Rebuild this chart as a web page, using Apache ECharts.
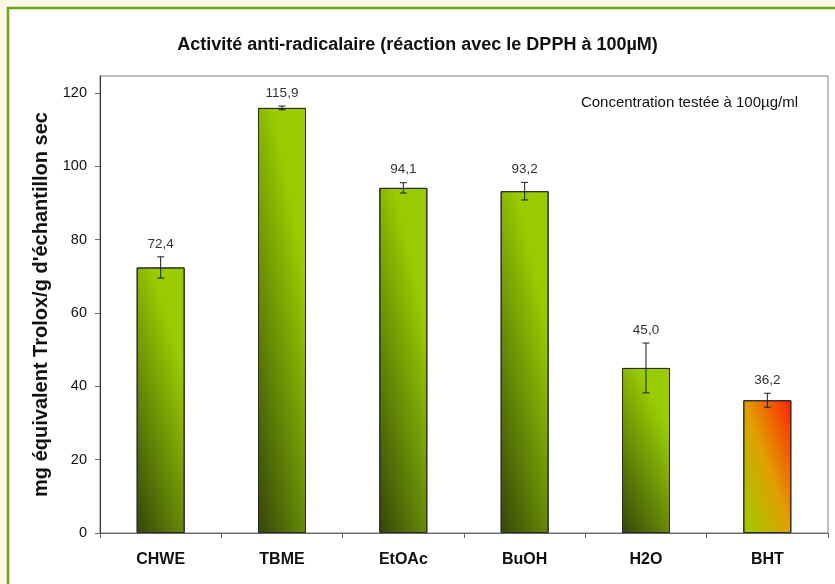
<!DOCTYPE html>
<html>
<head>
<meta charset="utf-8">
<script src="https://cdn.jsdelivr.net/npm/echarts@6/dist/echarts.min.js"></script>
<style>
  html, body { margin: 0; padding: 0; background: #fdf8e6; }
  #chart { width: 835px; height: 584px; }
</style>
</head>
<body>
<div id="chart"></div>
<script>
var categories = ['CHWE', 'TBME', 'EtOAc', 'BuOH', 'H2O', 'BHT'];
var values = [72.4, 115.9, 94.1, 93.2, 45.0, 36.2];
var errors = [2.9, 0.5, 1.4, 2.4, 6.8, 1.9];
var yTicks = [0, 20, 40, 60, 80, 100, 120];

var yMax = 124.6;
var plotH = 584 - 76 - 51;
var barW = 48;

var chartDom = document.getElementById('chart');
var myChart = echarts.init(chartDom);

// diagonal gradient from the bottom-left corner; c = how far up the left edge the mid colour sits
function diagFill(v, c, stops) {
    var h = v / yMax * plotH;
    var ch = c * h;
    var s = barW * barW + ch * ch;
    var x2 = 2 * ch * ch / s;
    var y2 = 1 - 2 * c * barW * barW / s;
    return new echarts.graphic.LinearGradient(0, 1, x2, y2, stops);
}

var greenStops = [
    {offset: 0, color: '#34450a'},
    {offset: 0.5, color: '#668a06'},
    {offset: 1, color: '#99cc00'}
];
var redStops = [
    {offset: 0, color: '#99cc00'},
    {offset: 0.5, color: '#e0a000'},
    {offset: 1, color: '#ff2200'}
];

var barData = [];
for (let i = 0; i < values.length; i++) {
    var isRef = categories[i] === 'BHT';
    barData.push({
        value: values[i],
        itemStyle: {color: isRef ? diagFill(values[i], 1, redStops) : diagFill(values[i], 0.6, greenStops)}
    });
}
var errData = [];
for (let i = 0; i < values.length; i++) {
    errData.push([i, values[i], errors[i]]);
}

function fmt(v) {
    return v.toFixed(1).replace('.', ',');
}

var option = {
    backgroundColor: '#fdf8e6',
    textStyle: {fontFamily: 'Liberation Sans, Arial, sans-serif'},
    graphic: [
        {
            type: 'rect',
            z: -10,
            shape: {x: 8, y: 8, width: 840, height: 590},
            style: {fill: '#ffffff', stroke: '#6aa812', lineWidth: 2.5}
        },
        {
            type: 'text',
            right: 37,
            top: 95,
            style: {text: 'Concentration testée à 100µg/ml', fill: '#111', font: '15px Liberation Sans'}
        }
    ],
    title: {
        text: 'Activité anti-radicalaire (réaction avec le DPPH à 100µM)',
        left: 'center',
        top: 31,
        textStyle: {fontSize: 18, fontWeight: 'bold', color: '#111', fontFamily: 'Liberation Sans'}
    },
    grid: {
        left: 100,
        right: 7,
        top: 76,
        bottom: 51,
        show: true,
        borderColor: '#808080',
        borderWidth: 1
    },
    xAxis: {
        type: 'category',
        data: categories,
        axisLine: {lineStyle: {color: '#666', width: 1}},
        axisTick: {show: true, length: 5, lineStyle: {color: '#666'}},
        axisLabel: {fontSize: 16, fontWeight: 'bold', color: '#111', margin: 19}
    },
    yAxis: {
        type: 'value',
        min: 0,
        max: yMax,
        interval: 20,
        name: "mg équivalent Trolox/g d'échantillon sec",
        nameLocation: 'middle',
        nameGap: 49,
        nameTextStyle: {fontSize: 20, fontWeight: 'bold', color: '#111'},
        splitLine: {show: false},
        axisLine: {show: true, lineStyle: {color: '#333', width: 1}},
        axisTick: {show: true, length: 5, customValues: yTicks, lineStyle: {color: '#666'}},
        axisLabel: {fontSize: 14.5, color: '#111', margin: 13, customValues: yTicks}
    },
    series: [
        {
            type: 'bar',
            data: barData,
            barWidth: barW,
            itemStyle: {borderColor: '#2b2b2b', borderWidth: 1}
        },
        {
            type: 'custom',
            data: errData,
            z: 5,
            renderItem: function (params, api) {
                var x = api.value(0);
                var v = api.value(1);
                var e = api.value(2);
                var hi = api.coord([x, v + e]);
                var lo = api.coord([x, v - e]);
                var cap = 3.5;
                var st = {stroke: '#1a1a1a', lineWidth: 1};
                return {
                    type: 'group',
                    children: [
                        {type: 'line', shape: {x1: hi[0], y1: hi[1], x2: lo[0], y2: lo[1]}, style: st},
                        {type: 'line', shape: {x1: hi[0] - cap, y1: hi[1], x2: hi[0] + cap, y2: hi[1]}, style: st},
                        {type: 'line', shape: {x1: lo[0] - cap, y1: lo[1], x2: lo[0] + cap, y2: lo[1]}, style: st},
                        {
                            type: 'text',
                            x: hi[0],
                            y: hi[1] - 6,
                            style: {
                                text: fmt(v),
                                fill: '#333',
                                font: '13.5px Liberation Sans',
                                align: 'center',
                                verticalAlign: 'bottom'
                            }
                        }
                    ]
                };
            }
        }
    ]
};

option && myChart.setOption(option);
window.addEventListener('resize', myChart.resize);
</script>
</body>
</html>
